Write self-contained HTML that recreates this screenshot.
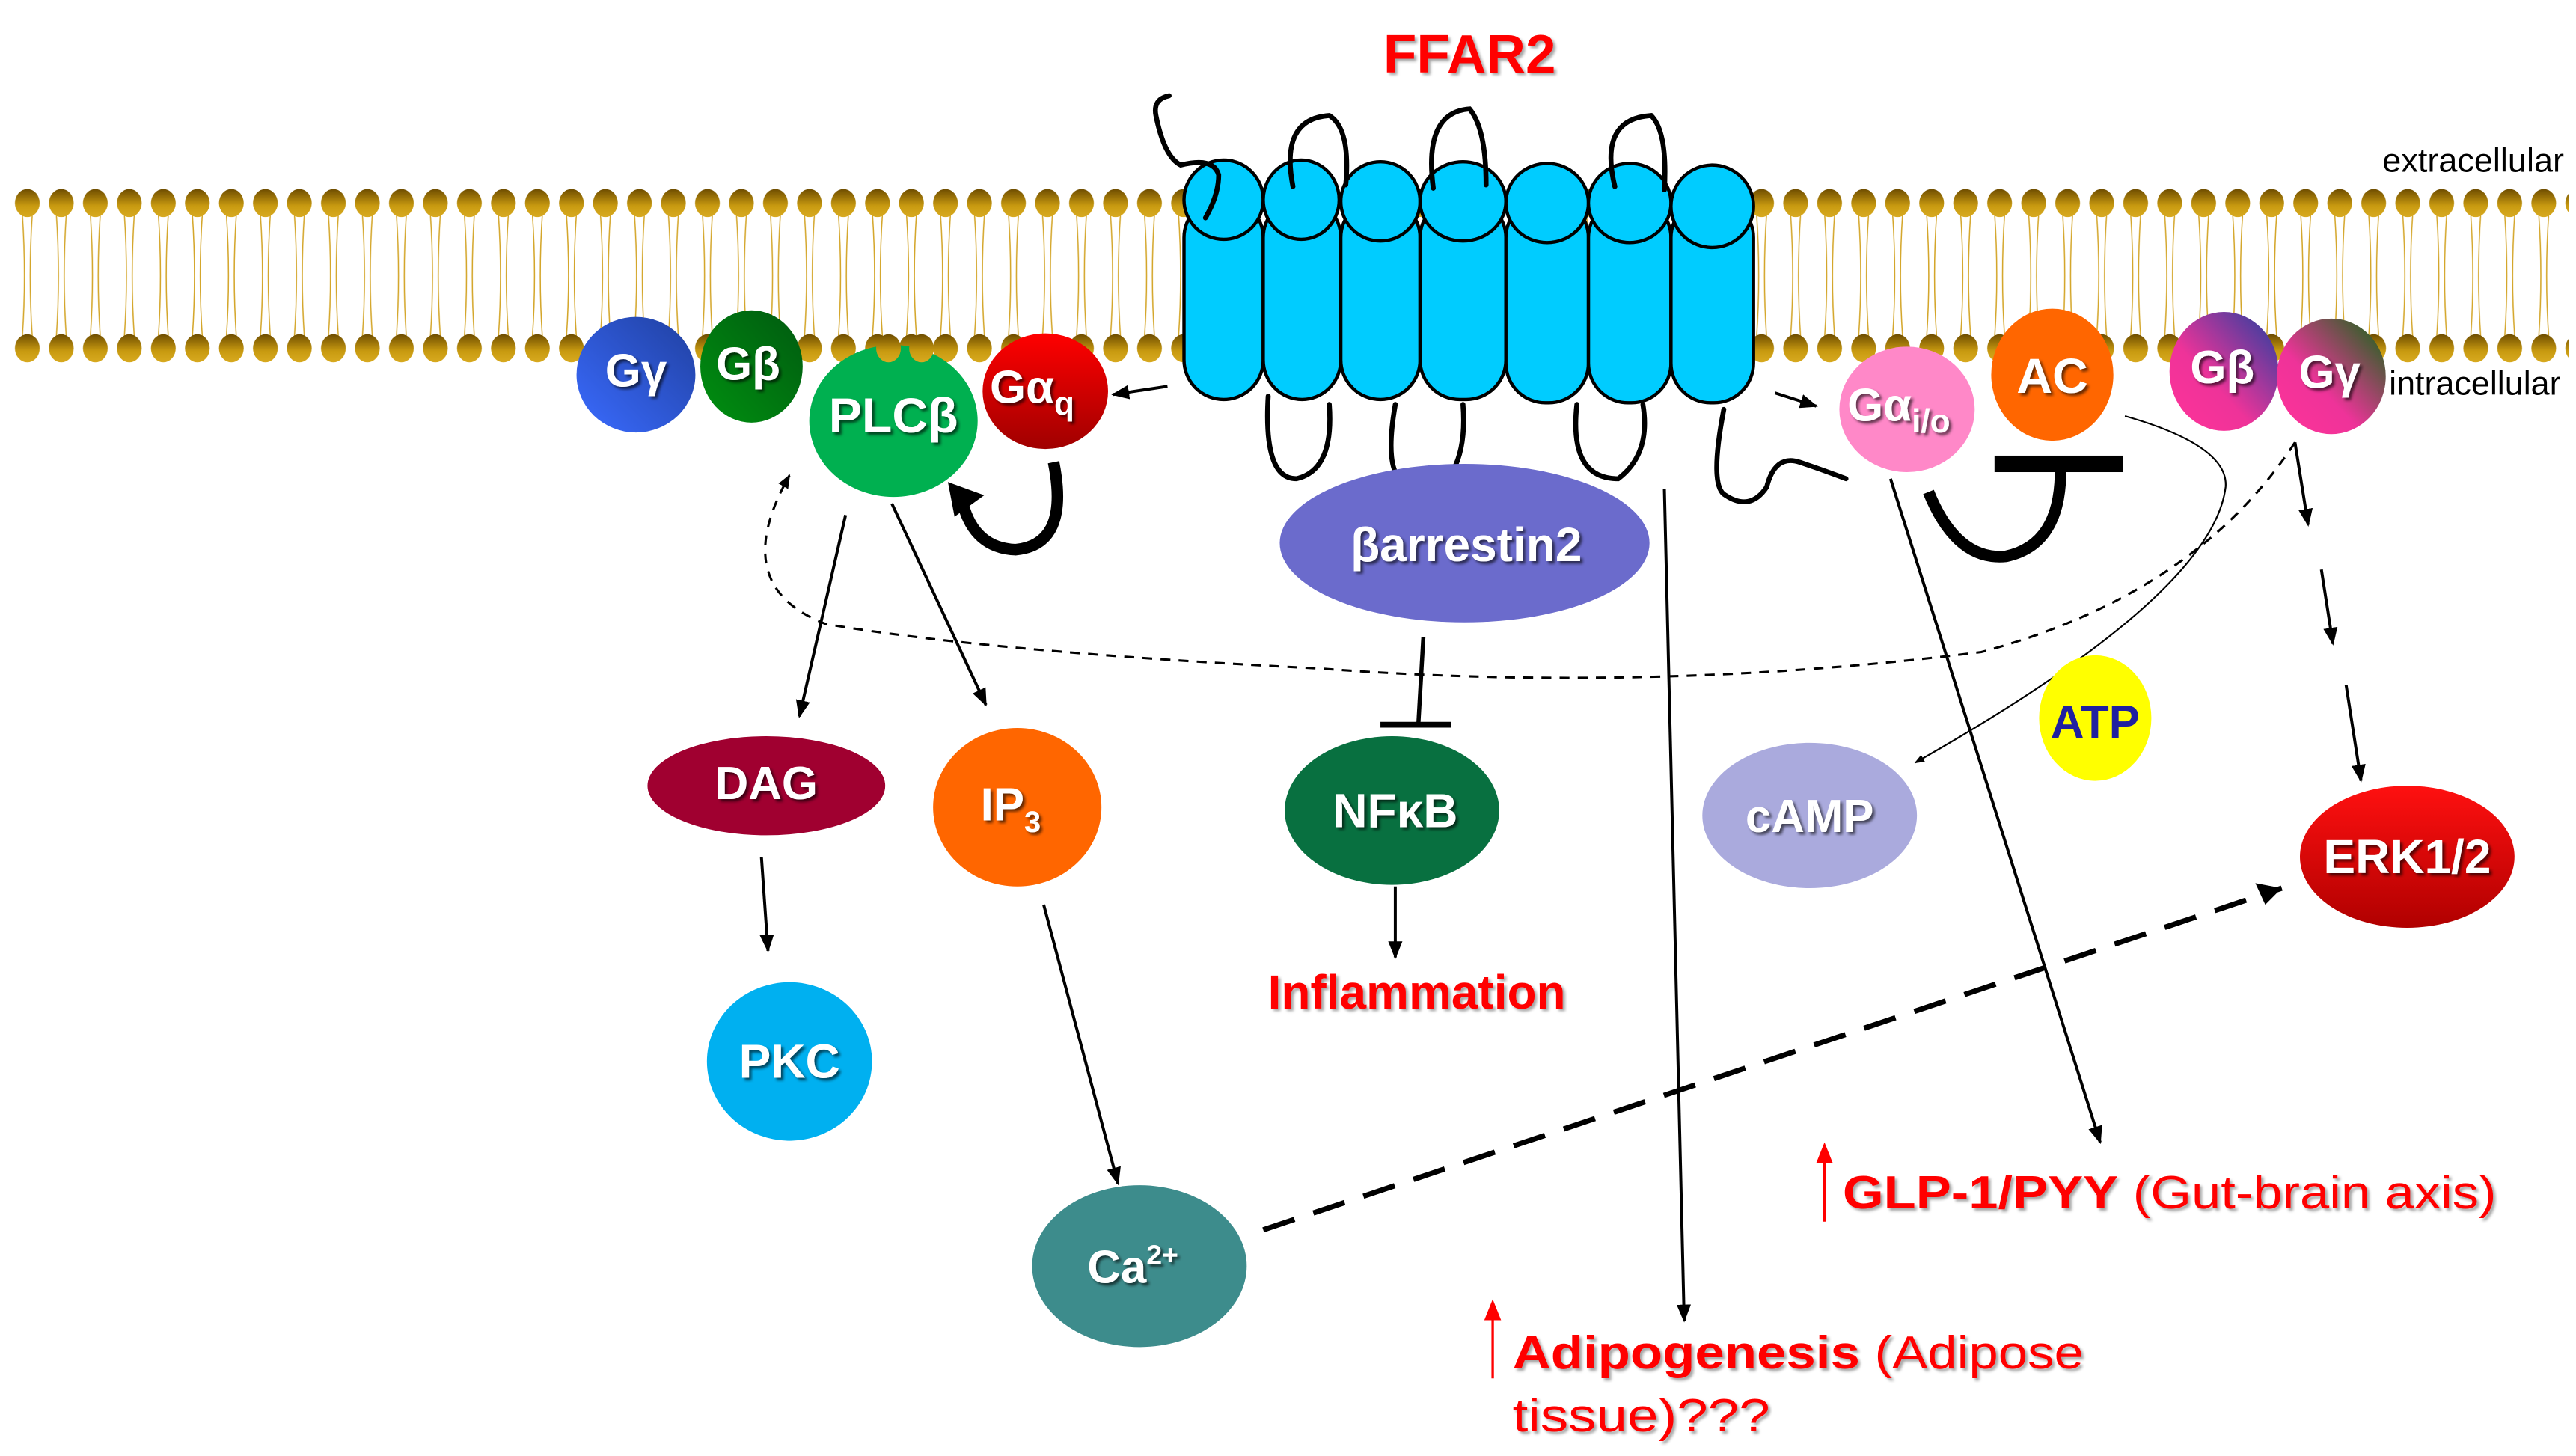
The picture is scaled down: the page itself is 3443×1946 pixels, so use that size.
<!DOCTYPE html>
<html><head><meta charset="utf-8"><style>
html,body{margin:0;padding:0;background:#fff}
svg{display:block}
.n{font-family:"Liberation Sans",sans-serif;font-weight:bold;fill:#fff;font-size:28px;text-anchor:middle}
</style></head><body>
<svg width="3443" height="1946" viewBox="0 0 1560 882" xmlns="http://www.w3.org/2000/svg">
<defs>
<linearGradient id="hd" x1="0" y1="0" x2="0" y2="1"><stop offset="0" stop-color="#6e4d00"/><stop offset="0.6" stop-color="#c89a10"/><stop offset="1" stop-color="#d8aa20"/></linearGradient>
<pattern id="mem" patternUnits="userSpaceOnUse" x="6" y="0" width="20.6" height="882">
<path d="M7.3 130 Q9.8 167 7.3 204 M13.3 130 Q10.8 167 13.3 204" stroke="#d4a62a" stroke-width="0.7" fill="none"/>
<ellipse cx="10.3" cy="123" rx="7.5" ry="8.5" fill="url(#hd)"/>
<ellipse cx="10.3" cy="211" rx="7.5" ry="8.5" fill="url(#hd)"/>
</pattern>
<linearGradient id="gy1" x1="1" y1="0" x2="0" y2="1"><stop offset="0" stop-color="#2040a0"/><stop offset="1" stop-color="#3a6bff"/></linearGradient>
<linearGradient id="gb1" x1="1" y1="0" x2="0" y2="1"><stop offset="0" stop-color="#005a10"/><stop offset="1" stop-color="#009010"/></linearGradient>
<linearGradient id="gaq" x1="0" y1="0" x2="0" y2="1"><stop offset="0" stop-color="#ff0000"/><stop offset="1" stop-color="#a00000"/></linearGradient>
<linearGradient id="gb2" x1="1" y1="0" x2="0" y2="1"><stop offset="0" stop-color="#2040a0"/><stop offset="0.6" stop-color="#ee3399"/><stop offset="1" stop-color="#ff3399"/></linearGradient>
<linearGradient id="gy2" x1="1" y1="0" x2="0" y2="1"><stop offset="0" stop-color="#0a6a10"/><stop offset="0.6" stop-color="#ee3399"/><stop offset="1" stop-color="#ff3399"/></linearGradient>
<linearGradient id="erk" x1="0" y1="0" x2="0" y2="1"><stop offset="0" stop-color="#ff1010"/><stop offset="1" stop-color="#b00000"/></linearGradient>
<marker id="ar" viewBox="0 0 10 10" refX="9" refY="5" markerWidth="6" markerHeight="6" orient="auto"><path d="M0 1 L10 5 L0 9 Z" fill="#000"/></marker>
<filter id="sh" x="-10%" y="-10%" width="130%" height="130%"><feDropShadow dx="1.5" dy="1.5" stdDeviation="0.8" flood-color="#000" flood-opacity="0.6"/></filter>
<filter id="sh2" x="-10%" y="-10%" width="130%" height="130%"><feDropShadow dx="1.5" dy="1.5" stdDeviation="0.8" flood-color="#000" flood-opacity="0.35"/></filter>
</defs>

<rect x="6" y="100" width="1550" height="125" fill="url(#mem)"/>

<text x="890" y="44" font-family="Liberation Sans,sans-serif" font-weight="bold" font-size="33" fill="#ff0000" text-anchor="middle" filter="url(#sh2)">FFAR2</text>
<text x="1498" y="104" font-family="Liberation Sans,sans-serif" font-size="20" fill="#000" text-anchor="middle" textLength="110" lengthAdjust="spacingAndGlyphs">extracellular</text>
<text x="1499" y="239" font-family="Liberation Sans,sans-serif" font-size="20" fill="#000" text-anchor="middle" textLength="104" lengthAdjust="spacingAndGlyphs">intracellular</text>

<!-- intracellular loops (behind) -->
<g fill="none" stroke="#000" stroke-width="3" stroke-linecap="round">
<path d="M768 240 Q765 290 785 290 Q808 285 805 245"/>
<path d="M845 245 Q838 285 850 292 M880 285 Q888 270 886 245"/>
<path d="M955 245 Q950 290 980 290 Q1000 275 995 245"/>
<path d="M1044 248 Q1035 295 1045 300 Q1060 310 1070 295 Q1075 275 1090 280 Q1105 285 1118 290"/>
</g>
<!-- cylinders -->
<g stroke="#000" stroke-width="2" fill="#00ccff">
<rect x="717" y="120" width="48" height="122" rx="24" ry="24"/>
<rect x="765" y="120" width="47" height="122" rx="24" ry="24"/>
<rect x="812" y="120" width="48" height="122" rx="24" ry="24"/>
<rect x="860" y="120" width="52" height="122" rx="24" ry="24"/>
<rect x="912" y="120" width="50" height="124" rx="24" ry="24"/>
<rect x="962" y="120" width="50" height="124" rx="24" ry="24"/>
<rect x="1012" y="120" width="50" height="124" rx="24" ry="24"/>
<ellipse cx="741" cy="121" rx="24" ry="24"/>
<ellipse cx="788" cy="121" rx="23" ry="24"/>
<ellipse cx="836" cy="122" rx="24" ry="24"/>
<ellipse cx="886" cy="122" rx="26" ry="24"/>
<ellipse cx="937" cy="123" rx="25" ry="24"/>
<ellipse cx="987" cy="123" rx="25" ry="24"/>
<ellipse cx="1037" cy="125" rx="25" ry="25"/>
</g>
<!-- extracellular loops (over tops) -->
<g fill="none" stroke="#000" stroke-width="3" stroke-linecap="round">
<path d="M708 58 Q698 60 700 70 Q705 95 715 100 Q735 95 738 106 Q738 118 730 132"/>
<path d="M783 113 Q775 72 805 70 Q818 78 815 112"/>
<path d="M868 114 Q862 68 890 66 Q900 78 900 112"/>
<path d="M978 113 Q968 72 1000 70 Q1010 80 1008 115"/>
</g>

<ellipse cx="385" cy="227" rx="36" ry="35" fill="url(#gy1)"/>
<ellipse cx="455" cy="222" rx="31" ry="34" fill="url(#gb1)"/>
<ellipse cx="541" cy="255" rx="51" ry="46" fill="#00b050"/>
<g fill="url(#hd)"><ellipse cx="538" cy="211" rx="7.5" ry="8.5"/><ellipse cx="558" cy="211" rx="7.5" ry="8.5"/></g>
<ellipse cx="633" cy="237" rx="38" ry="35" fill="url(#gaq)"/>
<ellipse cx="1155" cy="248" rx="41" ry="38" fill="#ff88c8"/>
<ellipse cx="1243" cy="227" rx="37" ry="40" fill="#ff6600"/>
<ellipse cx="1347" cy="225" rx="33" ry="36" fill="url(#gb2)"/>
<ellipse cx="1412" cy="228" rx="33" ry="35" fill="url(#gy2)"/>

<g class="n" filter="url(#sh)">
<text x="385" y="234" style="font-size:28px">Gγ</text>
<text x="453" y="230" style="font-size:28px">Gβ</text>
<text x="541" y="262" style="font-size:30px">PLCβ</text>
<text x="625" y="244" style="font-size:28px">Gα<tspan font-size="20" dy="7">q</tspan></text>
<text x="1150" y="255" style="font-size:28px">Gα<tspan font-size="20" dy="7">i/o</tspan></text>
<text x="1243" y="238" style="font-size:30px">AC</text>
<text x="1346" y="232" style="font-size:28px">Gβ</text>
<text x="1411" y="235" style="font-size:28px">Gγ</text>
</g>

<g fill="none" stroke="#000" stroke-width="1.8">
<line x1="707" y1="234" x2="674" y2="239" marker-end="url(#ar)"/>
<line x1="1075" y1="238" x2="1100" y2="246" marker-end="url(#ar)"/>
<line x1="512" y1="312" x2="484" y2="434" marker-end="url(#ar)"/>
<line x1="540" y1="305" x2="597" y2="427" marker-end="url(#ar)"/>
<line x1="461" y1="519" x2="465" y2="576" marker-end="url(#ar)"/>
<line x1="632" y1="548" x2="677" y2="717" marker-end="url(#ar)"/>
<line x1="845" y1="537" x2="845" y2="580" marker-end="url(#ar)"/>
<line x1="1008" y1="296" x2="1020" y2="800" marker-end="url(#ar)"/>
<line x1="1145" y1="290" x2="1272" y2="692" marker-end="url(#ar)"/>
<line x1="1390" y1="268" x2="1398" y2="318" marker-end="url(#ar)"/>
<line x1="1406" y1="345" x2="1413" y2="390" marker-end="url(#ar)"/>
<line x1="1421" y1="415" x2="1430" y2="473" marker-end="url(#ar)"/>
<path d="M1287 252 Q1350 270 1348 295 Q1340 360 1160 462" stroke-width="1" marker-end="url(#ar)"/>
<path d="M1390 268 Q1330 360 1200 395 Q1000 420 800 405 Q600 395 500 378 Q440 355 478 288" stroke-dasharray="6 5" stroke-width="1.4" marker-end="url(#ar)"/>
<line x1="765" y1="745" x2="1382" y2="538" stroke-width="3.2" stroke-dasharray="20 12"/>
<line x1="862" y1="386" x2="859" y2="438" stroke-width="2.5"/>
<line x1="836" y1="439" x2="879" y2="439" stroke-width="3.5"/>
</g>
<path d="M1382 538 L1366 535 L1372 548 Z" fill="#000"/>

<path d="M638 280 Q648 330 615 333 Q590 332 583 305" fill="none" stroke="#000" stroke-width="7"/>
<path d="M574 292 L596 300 L578 313 Z" fill="#000"/>
<path d="M1168 298 Q1185 340 1215 337 Q1248 330 1248 285" fill="none" stroke="#000" stroke-width="7"/>
<rect x="1208" y="276" width="78" height="10" fill="#000"/>

<ellipse cx="887" cy="329" rx="112" ry="48" fill="#6b6bcc"/>
<ellipse cx="464" cy="476" rx="72" ry="30" fill="#a00030"/>
<ellipse cx="616" cy="489" rx="51" ry="48" fill="#ff6600"/>
<ellipse cx="843" cy="491" rx="65" ry="45" fill="#087040"/>
<ellipse cx="1096" cy="494" rx="65" ry="44" fill="#aaaadd"/>
<ellipse cx="1269" cy="435" rx="34" ry="38" fill="#ffff00"/>
<ellipse cx="1458" cy="519" rx="65" ry="43" fill="url(#erk)"/>
<ellipse cx="478" cy="643" rx="50" ry="48" fill="#00b0f0"/>
<ellipse cx="690" cy="767" rx="65" ry="49" fill="#3d8c8c"/>

<g class="n" filter="url(#sh)">
<text x="888" y="340" style="font-size:29px">βarrestin2</text>
<text x="464" y="484" style="font-size:28px">DAG</text>
<text x="612" y="497" style="font-size:28px">IP<tspan font-size="18" dy="7">3</tspan></text>
<text x="845" y="501" style="font-size:29px">NFκB</text>
<text x="1096" y="504" style="font-size:28px">cAMP</text>
<text x="1458" y="529" style="font-size:29px">ERK1/2</text>
<text x="478" y="653" style="font-size:29px">PKC</text>
<text x="686" y="777" style="font-size:28px">Ca<tspan font-size="17" dy="-11">2+</tspan></text>
</g>
<text x="1269" y="447" font-family="Liberation Sans,sans-serif" font-weight="bold" font-size="28" fill="#2020a0" text-anchor="middle">ATP</text>

<g font-family="Liberation Sans,sans-serif" fill="#ff0000" filter="url(#sh2)">
<text x="858" y="611" font-weight="bold" font-size="29" text-anchor="middle">Inflammation</text>
<text x="1116" y="732" font-size="28" textLength="396" lengthAdjust="spacingAndGlyphs"><tspan font-weight="bold">GLP-1/PYY</tspan> (Gut-brain axis)</text>
<text x="916" y="829" font-size="28" textLength="346" lengthAdjust="spacingAndGlyphs"><tspan font-weight="bold">Adipogenesis</tspan> (Adipose</text>
<text x="916" y="867" font-size="28" textLength="156" lengthAdjust="spacingAndGlyphs">tissue)???</text>
</g>
<g stroke="#ff0000" stroke-width="1.5" fill="#ff0000">
<line x1="1105" y1="740" x2="1105" y2="702"/><path d="M1101 704 L1105 694 L1109 704 Z"/>
<line x1="904" y1="835" x2="904" y2="797"/><path d="M900 799 L904 789 L908 799 Z"/>
</g>
</svg>
</body></html>
